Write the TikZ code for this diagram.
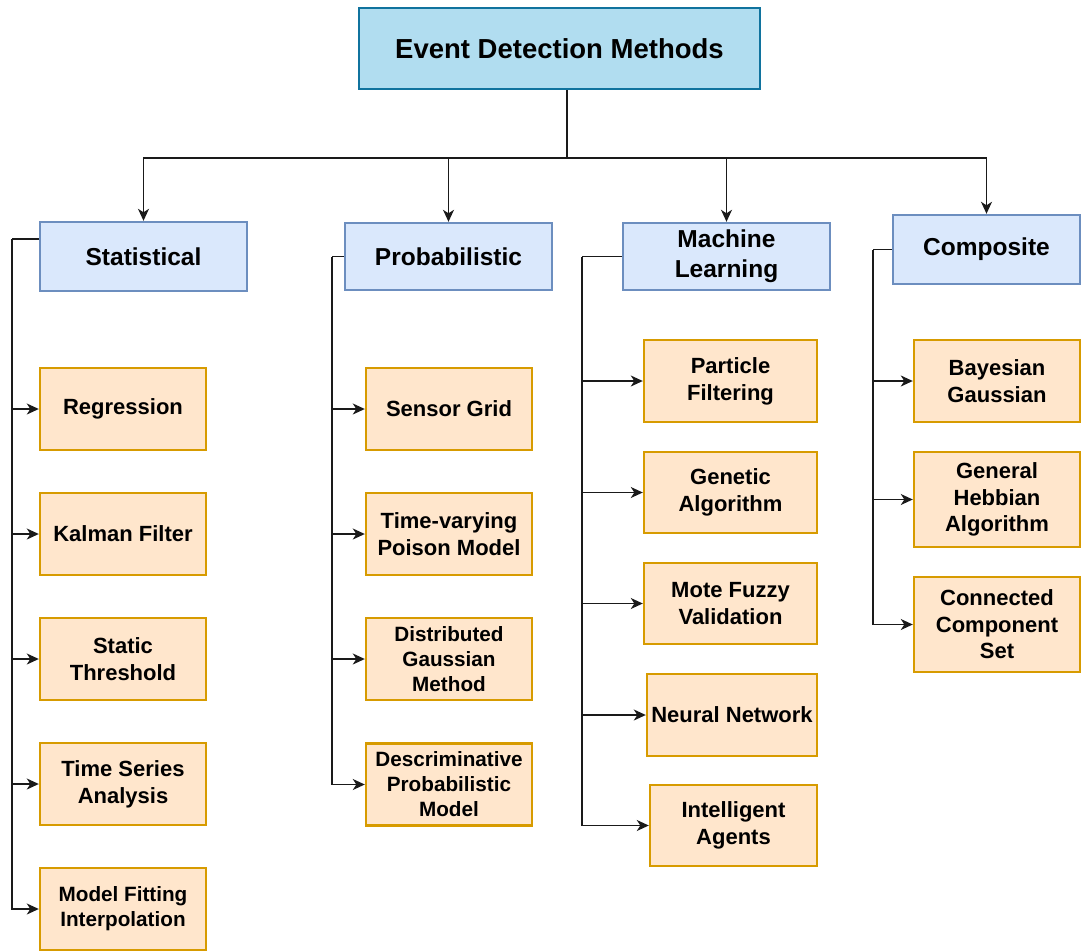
\documentclass[tikz,border=0pt]{standalone}
\usepackage{fontspec}
\setmainfont{Liberation Sans}
\usetikzlibrary{arrows.meta}
\definecolor{rootfill}{HTML}{B1DDF0}
\definecolor{rootline}{HTML}{10739E}
\definecolor{catfill}{HTML}{DAE8FC}
\definecolor{catline}{HTML}{6C8EBF}
\definecolor{leaffill}{HTML}{FFE6CC}
\definecolor{leafline}{HTML}{D79B00}
\definecolor{wirecol}{HTML}{1A1A1A}
\tikzset{
  base/.style={draw, line width=2.4pt, inner sep=0pt, align=center,
    font=\bfseries\fontsize{22}{27}\selectfont},
  leaf/.style={base, fill=leaffill, draw=leafline},
  smalltext/.style={font=\bfseries\fontsize{20.7}{25}\selectfont},
  cat/.style={base, fill=catfill, draw=catline,
    font=\bfseries\fontsize{24.5}{30}\selectfont},
  root/.style={base, fill=rootfill, draw=rootline,
    font=\bfseries\fontsize{27.5}{32}\selectfont},
  wire/.style={line width=1.4pt, draw=wirecol},
  arr/.style={wire, -{Stealth[length=12pt,width=11pt,inset=3.5pt]}},
}
\begin{document}
\begin{tikzpicture}[x=1pt,y=-1pt]
\useasboundingbox (0,0) rectangle (1082,951);

% root
\node[root, minimum width=401pt, minimum height=81pt] (root) at (559.5,48.5) {Event Detection Methods};

% categories
\node[cat, minimum width=207pt, minimum height=69pt] (stat) at (143.5,256.5) {Statistical};
\node[cat, minimum width=207pt, minimum height=67pt] (prob) at (448.5,256.5) {Probabilistic};
\node[cat, minimum width=207pt, minimum height=67pt] (ml)   at (726.5,256.5) {Machine\\Learning};
\node[cat, minimum width=187pt, minimum height=69pt] (comp) at (986.5,249.5) {Composite};

% statistical methods
\node[leaf, minimum width=166pt, minimum height=82pt] (reg)   at (123,409) {Regression};
\node[leaf, minimum width=166pt, minimum height=82pt] (kal)   at (123,534) {Kalman Filter};
\node[leaf, minimum width=166pt, minimum height=82pt] (sth)   at (123,659) {Static\\Threshold};
\node[leaf, minimum width=166pt, minimum height=82pt] (tsa)   at (123,784) {Time Series\\Analysis};
\node[leaf, smalltext, minimum width=166pt, minimum height=82pt] (mfi) at (123,909) {Model Fitting\\Interpolation};

% probabilistic methods
\node[leaf, minimum width=166pt, minimum height=82pt] (sgr)   at (449,409) {Sensor Grid};
\node[leaf, minimum width=166pt, minimum height=82pt] (tvp)   at (449,534) {Time-varying\\Poison Model};
\node[leaf, smalltext, minimum width=166pt, minimum height=82pt] (dgm) at (449,659) {Distributed\\Gaussian\\Method};
\node[leaf, smalltext, minimum width=166pt, minimum height=82pt] (dpm) at (449,784.5) {Descriminative\\Probabilistic\\Model};

% machine learning methods
\node[leaf, minimum width=173pt, minimum height=82pt] (pfl)   at (730.5,381) {Particle\\Filtering};
\node[leaf, minimum width=173pt, minimum height=81pt] (gal)   at (730.5,492.5) {Genetic\\Algorithm};
\node[leaf, minimum width=173pt, minimum height=81pt] (mfv)   at (730.5,603.5) {Mote Fuzzy\\Validation};
\node[leaf, minimum width=170pt, minimum height=82pt] (nnw)   at (732,715) {Neural Network};
\node[leaf, minimum width=167pt, minimum height=81pt] (iag)   at (733.5,825.5) {Intelligent\\Agents};

% composite methods
\node[leaf, minimum width=166pt, minimum height=82pt] (bga)   at (997,381) {Bayesian\\Gaussian};
\node[leaf, minimum width=166pt, minimum height=95pt, font=\bfseries\fontsize{22}{26.5}\selectfont] (gha) at (997,499.5) {General\\Hebbian\\Algorithm};
\node[leaf, minimum width=166pt, minimum height=95pt, font=\bfseries\fontsize{22}{26.5}\selectfont] (ccs) at (997,624.5) {Connected\\Component\\Set};

% bus from the root to the categories
\coordinate (bus) at (567,158);
\draw[wire] (bus |- root.south) -- (bus);
\draw[arr] (bus) -| (stat.north);
\draw[arr] (bus) -| (prob.north);
\draw[arr] (bus) -| (ml.north);
\draw[arr] (bus) -| (comp.north);

% statistical branch
\coordinate (sj) at (12,239);
\draw[wire] (stat.west |- sj) -- (sj);
\foreach \n in {reg,kal,sth,tsa,mfi} \draw[arr] (sj) |- (\n.west);

% probabilistic branch
\coordinate (pj) at (332,256.5);
\draw[wire] (prob.west) -- (pj);
\foreach \n in {sgr,tvp,dgm,dpm} \draw[arr] (pj) |- (\n.west);

% machine learning branch
\coordinate (mj) at (582,256.5);
\draw[wire] (ml.west) -- (mj);
\foreach \n in {pfl,gal,mfv,nnw,iag} \draw[arr] (mj) |- (\n.west);

% composite branch
\coordinate (cj) at (873,249.5);
\draw[wire] (comp.west) -- (cj);
\foreach \n in {bga,gha,ccs} \draw[arr] (cj) |- (\n.west);
\end{tikzpicture}
\end{document}
